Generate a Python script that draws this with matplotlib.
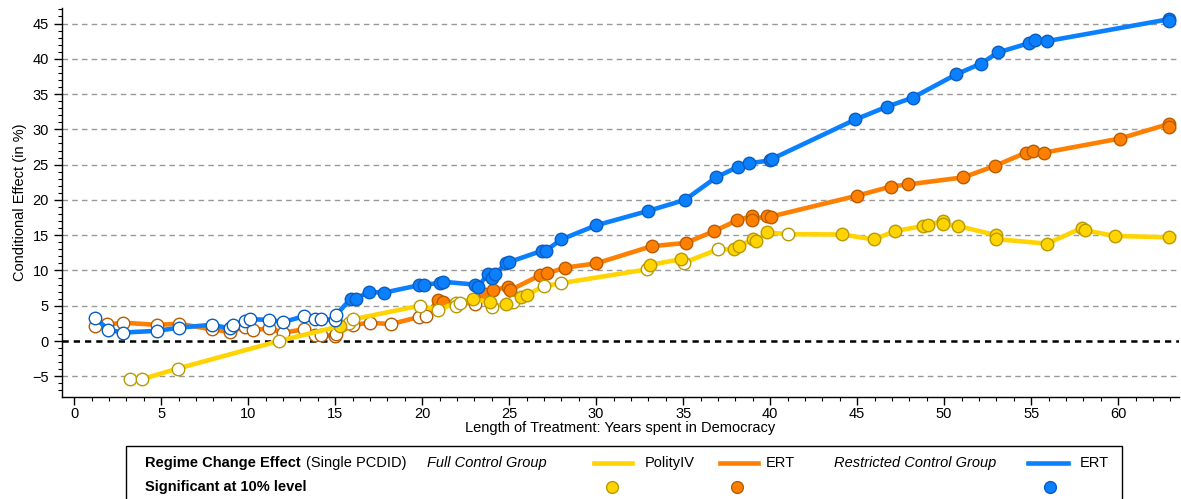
import matplotlib
matplotlib.use("Agg")
import matplotlib.pyplot as plt
import numpy as np
from matplotlib.patches import Rectangle
from matplotlib.lines import Line2D

plt.rcParams['font.family'] = ['Liberation Sans', 'DejaVu Sans']

# ---------------- data ----------------
# PolityIV, full control group
polity_x = [3.2, 3.9, 5.95, 11.75, 15.25, 15.8, 16.05, 19.85, 20.9, 21.95, 21.95, 22.2, 22.9,
            23.9, 24.0, 24.8, 25.2, 25.7, 26.0, 27.0, 28.0, 32.9, 33.1, 34.9, 35.05, 37.0,
            37.9, 38.2, 39.0, 39.2, 39.8, 41.0, 44.15, 45.95, 47.2, 48.8, 49.1, 49.96, 49.96,
            50.8, 53.0, 53.0, 55.9, 57.9, 58.1, 59.8, 62.9]
polity_y = [-5.4, -5.4, -3.9, 0.0, 2.1, 2.6, 3.1, 5.0, 4.4, 5.4, 4.9, 5.4, 6.0,
            5.5, 4.8, 5.3, 5.6, 6.3, 6.5, 7.8, 8.2, 10.15, 10.8, 11.6, 11.1, 13.0,
            13.0, 13.4, 14.45, 14.2, 15.4, 15.15, 15.1, 14.4, 15.6, 16.3, 16.5, 17.0, 16.6,
            16.3, 15.0, 14.45, 13.8, 16.0, 15.7, 14.9, 14.7]
polity_sig = [0, 0, 0, 0, 1, 0, 0, 0, 0, 0, 0, 0, 1,
              1, 0, 1, 0, 1, 1, 0, 0, 0, 1, 1, 0, 0,
              1, 1, 1, 1, 1, 0, 1, 1, 1, 1, 1, 1, 1,
              1, 1, 1, 1, 1, 1, 1, 1]

# ERT, full control group
ert_full_x = [1.2, 1.9, 2.8, 4.75, 6.05, 7.9, 8.97, 9.8, 10.3, 11.2, 12.0, 13.2, 13.85, 14.2,
              15.0, 15.05, 16.05, 17.0, 18.2, 19.8, 20.2, 20.9, 21.2, 23.05, 23.6, 24.1,
              24.95, 25.05, 26.8, 27.2, 28.2, 30.0, 33.2, 35.15, 36.8, 38.1, 38.95, 38.95,
              39.8, 40.06, 45.0, 46.95, 47.95, 51.1, 52.9, 54.7, 55.1, 55.75, 60.1, 62.9, 62.9]
ert_full_y = [2.2, 2.35, 2.6, 2.3, 2.45, 1.65, 1.3, 2.0, 1.55, 1.8, 1.2, 1.65, 0.85, 0.85,
              0.7, 1.0, 2.3, 2.6, 2.4, 3.4, 3.6, 5.8, 5.6, 5.3, 6.7, 7.2,
              7.7, 7.2, 9.35, 9.6, 10.4, 11.0, 13.45, 13.9, 15.6, 17.1, 17.7, 17.1,
              17.75, 17.65, 20.6, 21.9, 22.2, 23.2, 24.8, 26.7, 26.9, 26.7, 28.7, 30.75, 30.3]
ert_full_sig = [0, 0, 0, 0, 0, 0, 0, 0, 0, 0, 0, 0, 0, 0,
                0, 0, 0, 0, 0, 0, 0, 1, 1, 0, 1, 1,
                1, 1, 1, 1, 1, 1, 1, 1, 1, 1, 1, 1,
                1, 1, 1, 1, 1, 1, 1, 1, 1, 1, 1, 1, 1]

# ERT, restricted control group
ert_restr_x = [1.2, 1.97, 2.8, 4.75, 6.05, 7.9, 8.97, 9.1, 9.83, 10.1, 11.2, 12.0, 13.2, 13.85,
               14.2, 15.0, 15.05, 15.9, 16.2, 16.95, 17.8, 19.8, 20.1, 21.0, 21.2, 23.05,
               23.2, 23.8, 24.0, 24.2, 24.8, 25.0, 26.9, 27.1, 28.0, 30.0, 33.0, 35.1, 36.9,
               38.15, 38.8, 40.0, 40.1, 44.9, 46.7, 48.2, 50.7, 52.1, 53.1, 54.85, 55.2,
               55.9, 62.9, 62.9]
ert_restr_y = [3.3, 1.6, 1.2, 1.45, 1.9, 2.3, 1.8, 2.3, 2.8, 3.1, 3.0, 2.7, 3.5, 3.1,
               3.1, 3.0, 3.7, 6.0, 6.0, 7.0, 6.85, 7.9, 8.0, 8.2, 8.4, 8.0,
               7.7, 9.5, 8.9, 9.45, 11.0, 11.2, 12.8, 12.8, 14.4, 16.4, 18.45, 20.0, 23.2,
               24.7, 25.2, 25.6, 25.8, 31.4, 33.2, 34.5, 37.8, 39.3, 40.9, 42.2, 42.6,
               42.5, 45.6, 45.3]
ert_restr_sig = [0, 0, 0, 0, 0, 0, 0, 0, 0, 0, 0, 0, 0, 0,
                 0, 0, 0, 1, 1, 1, 1, 1, 1, 1, 1, 1,
                 1, 1, 1, 1, 1, 1, 1, 1, 1, 1, 1, 1, 1,
                 1, 1, 1, 1, 1, 1, 1, 1, 1, 1, 1, 1,
                 1, 1, 1]

# styles
YEL, YEL_E = '#FFD400', '#B89A00'
ORA, ORA_E = '#FF7F00', '#B85C00'
BLU, BLU_E = '#0A80FF', '#0A5DC0'

W, H = 1181, 499
fig = plt.figure(figsize=(W / 100, H / 100), dpi=100)
ax = fig.add_axes([62 / W, 1 - 397 / H, (1179 - 62) / W, (397 - 8) / H])

for yv in range(-5, 50, 5):
    if yv != 0:
        ax.axhline(yv, color='#999999', lw=1.0, ls=(0, (4, 3)), zorder=0)
ax.axhline(0, color='black', lw=1.8, ls=(0, (2.5, 2)), zorder=1)

series = [
    (ert_full_x, ert_full_y, ert_full_sig, ORA, ORA_E, 2),
    (polity_x, polity_y, polity_sig, YEL, YEL_E, 3),
    (ert_restr_x, ert_restr_y, ert_restr_sig, BLU, BLU_E, 4),
]
for xs, ys, sig, c, ce, z in series:
    xs = np.array(xs); ys = np.array(ys); sig = np.array(sig, dtype=bool)
    ax.plot(xs, ys, color=c, lw=3.3, zorder=z, solid_capstyle='round')
    ax.plot(xs[~sig], ys[~sig], ls='none', marker='o', ms=9, mfc='white',
            mec=ce, mew=1.0, zorder=z + 0.3)
    ax.plot(xs[sig], ys[sig], ls='none', marker='o', ms=9, mfc=c,
            mec=ce, mew=1.0, zorder=z + 0.5)

ax.set_xlim(-0.7, 63.5)
ax.set_ylim(-7.93, 47.2)
ax.set_xticks(np.arange(0, 61, 5))
ax.set_xticks(np.arange(0, 64, 1), minor=True)
ax.set_yticks(np.arange(-5, 46, 5))
ax.set_yticks(np.arange(-7, 48, 1), minor=True)
ax.set_yticklabels(['\u22125' if v < 0 else str(v) for v in range(-5, 46, 5)])
ax.tick_params(axis='both', which='major', length=6, width=1, labelsize=10.5, direction='out')
ax.tick_params(axis='x', which='major', pad=1.5)
ax.tick_params(axis='both', which='minor', length=3, width=0.8, direction='out')
for s in ['top', 'right']:
    ax.spines[s].set_visible(False)
ax.spines['left'].set_linewidth(1.0)
ax.spines['bottom'].set_linewidth(1.0)
ax.set_xlabel('Length of Treatment: Years spent in Democracy', fontsize=10.5, labelpad=0)
ax.set_ylabel('Conditional Effect (in %)', fontsize=10.5, labelpad=4)

# ---------------- custom legend box ----------------
lg = fig.add_axes([0, 0, 1, 1], zorder=10)
lg.set_xlim(0, W); lg.set_ylim(H, 0); lg.axis('off')
lg.add_patch(Rectangle((126, 446), 996, 60, fill=False, ec='black', lw=1.0))
r1, r2 = 463, 487
fs = 10.5
t_bold = lg.text(145, r1, 'Regime Change Effect', fontsize=fs, fontweight='bold', va='center')
renderer = fig.canvas.get_renderer()
bb = t_bold.get_window_extent(renderer=renderer)
lg.text(bb.x1 + 5, r1, '(Single PCDID)', fontsize=fs, va='center')
lg.text(427, r1, 'Full Control Group', fontsize=fs, style='italic', va='center')
lg.add_line(Line2D([594, 632], [r1, r1], color=YEL, lw=3.3))
lg.text(645, r1, 'PolityIV', fontsize=fs, va='center')
lg.add_line(Line2D([720, 758], [r1, r1], color=ORA, lw=3.3))
lg.text(766, r1, 'ERT', fontsize=fs, va='center')
lg.text(834, r1, 'Restricted Control Group', fontsize=fs, style='italic', va='center')
lg.add_line(Line2D([1028, 1068], [r1, r1], color=BLU, lw=3.3))
lg.text(1080, r1, 'ERT', fontsize=fs, va='center')
lg.text(145, r2, 'Significant at 10% level', fontsize=fs, fontweight='bold', va='center')
for xp, c, ce in [(612, YEL, YEL_E), (737, ORA, ORA_E), (1050, BLU, BLU_E)]:
    lg.add_line(Line2D([xp], [r2], marker='o', ms=8.5, mfc=c, mec=ce, mew=1.0, ls='none'))

fig.savefig('out.png', dpi=100)
